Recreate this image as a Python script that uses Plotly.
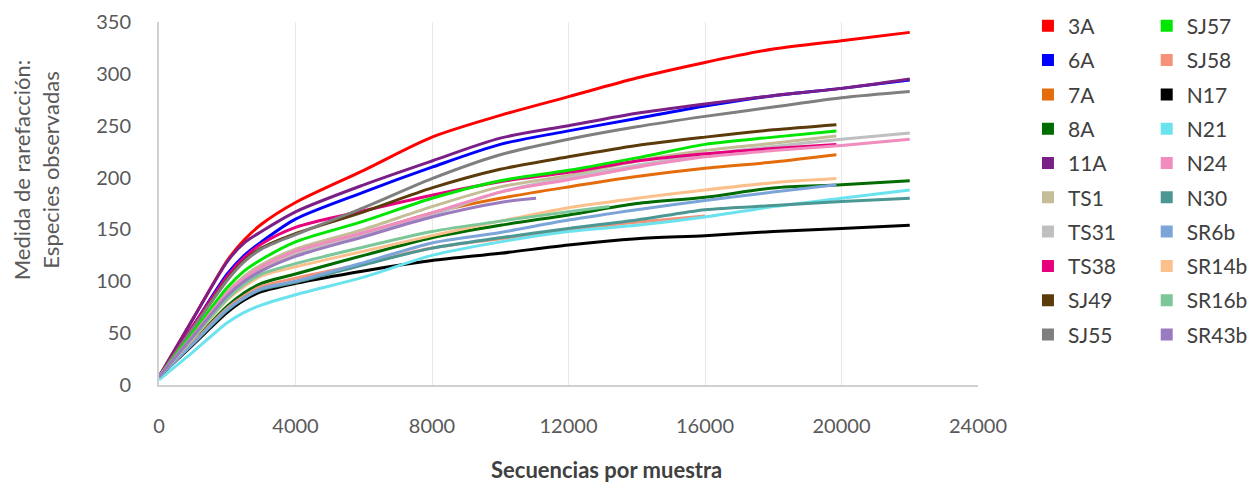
import plotly.graph_objects as go

# Sampling depths (sequences per sample)
x_full = [0, 1000, 2000, 2500, 3000, 4000, 6000, 8000, 10000, 12000, 14000, 16000, 18000, 20000, 22000]
x_short = [0, 1000, 2000, 2500, 3000, 4000, 6000, 8000, 10000, 12000, 14000, 16000, 18000, 19850]
x_sj58 = [0, 1000, 2000, 2500, 3000, 4000, 6000, 8000, 10000, 12000, 14000, 16000]
x_sr16b = [0, 1000, 2000, 2500, 3000, 4000, 6000, 8000, 10000, 12000, 13200]
x_sr43b = [0, 1000, 2000, 2500, 3000, 4000, 6000, 8000, 10000, 11050]

# Observed species (rarefaction means)
s_3A = [8, 64, 120, 140, 155, 176, 207, 239, 260, 278, 296, 311, 324, 332, 340]
s_6A = [8, 57, 107, 125, 138, 160, 186, 210, 232, 245, 257, 269, 279, 286, 294]
s_7A = [8, 47, 86, 101, 111, 126, 146, 166, 180, 191, 201, 209, 215, 222]
s_8A = [8, 42, 76, 89, 98, 107, 125, 142, 154, 164, 175, 181, 190, 193, 197]
s_11A = [8, 64, 119, 137, 148, 167, 193, 216, 238, 250, 262, 271, 279, 286, 295]
s_TS1 = [8, 49, 90, 105, 116, 131, 150, 172, 191, 202, 216, 226, 233, 240]
s_TS31 = [8, 48, 88, 102, 113, 127, 145, 164, 186, 200, 212, 222, 230, 237, 243]
s_TS38 = [8, 57, 105, 123, 136, 152, 168, 183, 196, 205, 216, 223, 228, 232]
s_SJ49 = [8, 55, 102, 120, 132, 146, 167, 190, 208, 220, 231, 239, 246, 251]
s_SJ55 = [8, 55, 101, 119, 131, 145, 171, 199, 222, 237, 249, 259, 268, 277, 283]
s_SJ57 = [8, 51, 94, 110, 121, 138, 158, 180, 197, 207, 219, 232, 239, 245]
s_SJ58 = [8, 41, 74, 86, 95, 103, 117, 132, 141, 150, 157, 163]
s_N17 = [8, 39, 70, 82, 90, 98, 110, 120, 127, 135, 141, 144, 148, 151, 154]
s_N21 = [5, 32, 60, 70, 77, 87, 104, 125, 138, 148, 154, 162, 172, 180, 188]
s_N24 = [8, 48, 89, 103, 114, 129, 147, 166, 186, 198, 210, 220, 226, 231, 237]
s_N30 = [8, 40, 72, 84, 92, 99, 116, 132, 142, 151, 159, 169, 173, 177, 180]
s_SR6b = [8, 40, 73, 84, 93, 100, 118, 137, 147, 159, 169, 178, 186, 193]
s_SR14b = [8, 45, 82, 95, 105, 114, 129, 144, 158, 171, 180, 188, 195, 199]
s_SR16b = [8, 46, 83, 97, 107, 117, 133, 148, 158, 167, 172]
s_SR43b = [8, 47, 86, 100, 110, 124, 143, 162, 176, 180]

x_ticks = [0, 4000, 8000, 12000, 16000, 20000, 24000]
y_ticks = [0, 50, 100, 150, 200, 250, 300, 350]

series = [
    ("3A", x_full, s_3A, "#FF0000"),
    ("6A", x_full, s_6A, "#0000FF"),
    ("7A", x_short, s_7A, "#E46C0A"),
    ("8A", x_full, s_8A, "#006B00"),
    ("11A", x_full, s_11A, "#7B1F88"),
    ("TS1", x_short, s_TS1, "#C4BD97"),
    ("TS31", x_full, s_TS31, "#BFBFBF"),
    ("TS38", x_short, s_TS38, "#E6007E"),
    ("SJ49", x_short, s_SJ49, "#5C3B0B"),
    ("SJ55", x_full, s_SJ55, "#7F7F7F"),
    ("SJ57", x_short, s_SJ57, "#00E600"),
    ("SJ58", x_sj58, s_SJ58, "#F4937A"),
    ("N17", x_full, s_N17, "#000000"),
    ("N21", x_full, s_N21, "#6BE3EE"),
    ("N24", x_full, s_N24, "#F08CBE"),
    ("N30", x_full, s_N30, "#4A9793"),
    ("SR6b", x_short, s_SR6b, "#7BA5D8"),
    ("SR14b", x_short, s_SR14b, "#FBC08C"),
    ("SR16b", x_sr16b, s_SR16b, "#7CC79A"),
    ("SR43b", x_sr43b, s_SR43b, "#9B7BC0"),
]

FONT = "Lato"
fig = go.Figure()

for name, xs, ys, color in series:
    fig.add_trace(go.Scatter(
        x=xs, y=ys, mode="lines", name=name,
        line=dict(color=color, width=3, shape="spline", smoothing=0.8),
        legendgroup=name, showlegend=False, hoverinfo="skip",
    ))

# Square legend keys, split into two columns
for i, (name, xs, ys, color) in enumerate(series):
    fig.add_trace(go.Scatter(
        x=[None], y=[None], mode="markers", name=name,
        marker=dict(symbol="square", size=12, color=color),
        legendgroup=name, showlegend=True,
        legend="legend" if i < 10 else "legend2",
    ))

legend_common = dict(
    font=dict(family=FONT, size=21, color="#404040"),
    bgcolor="rgba(0,0,0,0)", tracegroupgap=4, maxheight=600,
    yanchor="top", y=1.045, xanchor="left", itemwidth=30,
)

fig.update_layout(
    width=1248, height=487,
    margin=dict(l=159, r=270, t=22, b=102, autoexpand=False),
    paper_bgcolor="white", plot_bgcolor="white",
    font=dict(family=FONT, color="#595959"),
    legend=dict(x=1.061, **legend_common),
    legend2=dict(x=1.206, **legend_common),
    xaxis=dict(
        range=[0, 24000], tickvals=x_ticks, ticktext=[str(v) for v in x_ticks],
        showgrid=True, gridcolor="#E8E8E8", gridwidth=1,
        showline=True, linecolor="#D0D0D0", linewidth=2,
        ticks="", ticklabelstandoff=22, zeroline=False,
        tickfont=dict(family=FONT, size=20, color="#595959"),
    ),
    yaxis=dict(
        range=[0, 350], tickvals=y_ticks,
        showgrid=False, showline=True, linecolor="#D0D0D0", linewidth=2,
        ticks="", ticklabelstandoff=22, zeroline=False,
        tickfont=dict(family=FONT, size=20, color="#595959"),
    ),
    annotations=[
        dict(
            text="Medida de rarefacción:<br>Especies observadas",
            textangle=-90, xref="paper", yref="paper", x=-0.150, y=0.592,
            xanchor="center", yanchor="middle", showarrow=False,
            font=dict(family=FONT, size=22, color="#595959"),
        ),
        dict(
            text="<b>Secuencias por muestra</b>",
            xref="paper", yref="paper", x=0.546, y=-0.234,
            xanchor="center", yanchor="middle", showarrow=False,
            font=dict(family=FONT, size=22, color="#404040"),
        ),
    ],
)

fig.write_html("out.html")
